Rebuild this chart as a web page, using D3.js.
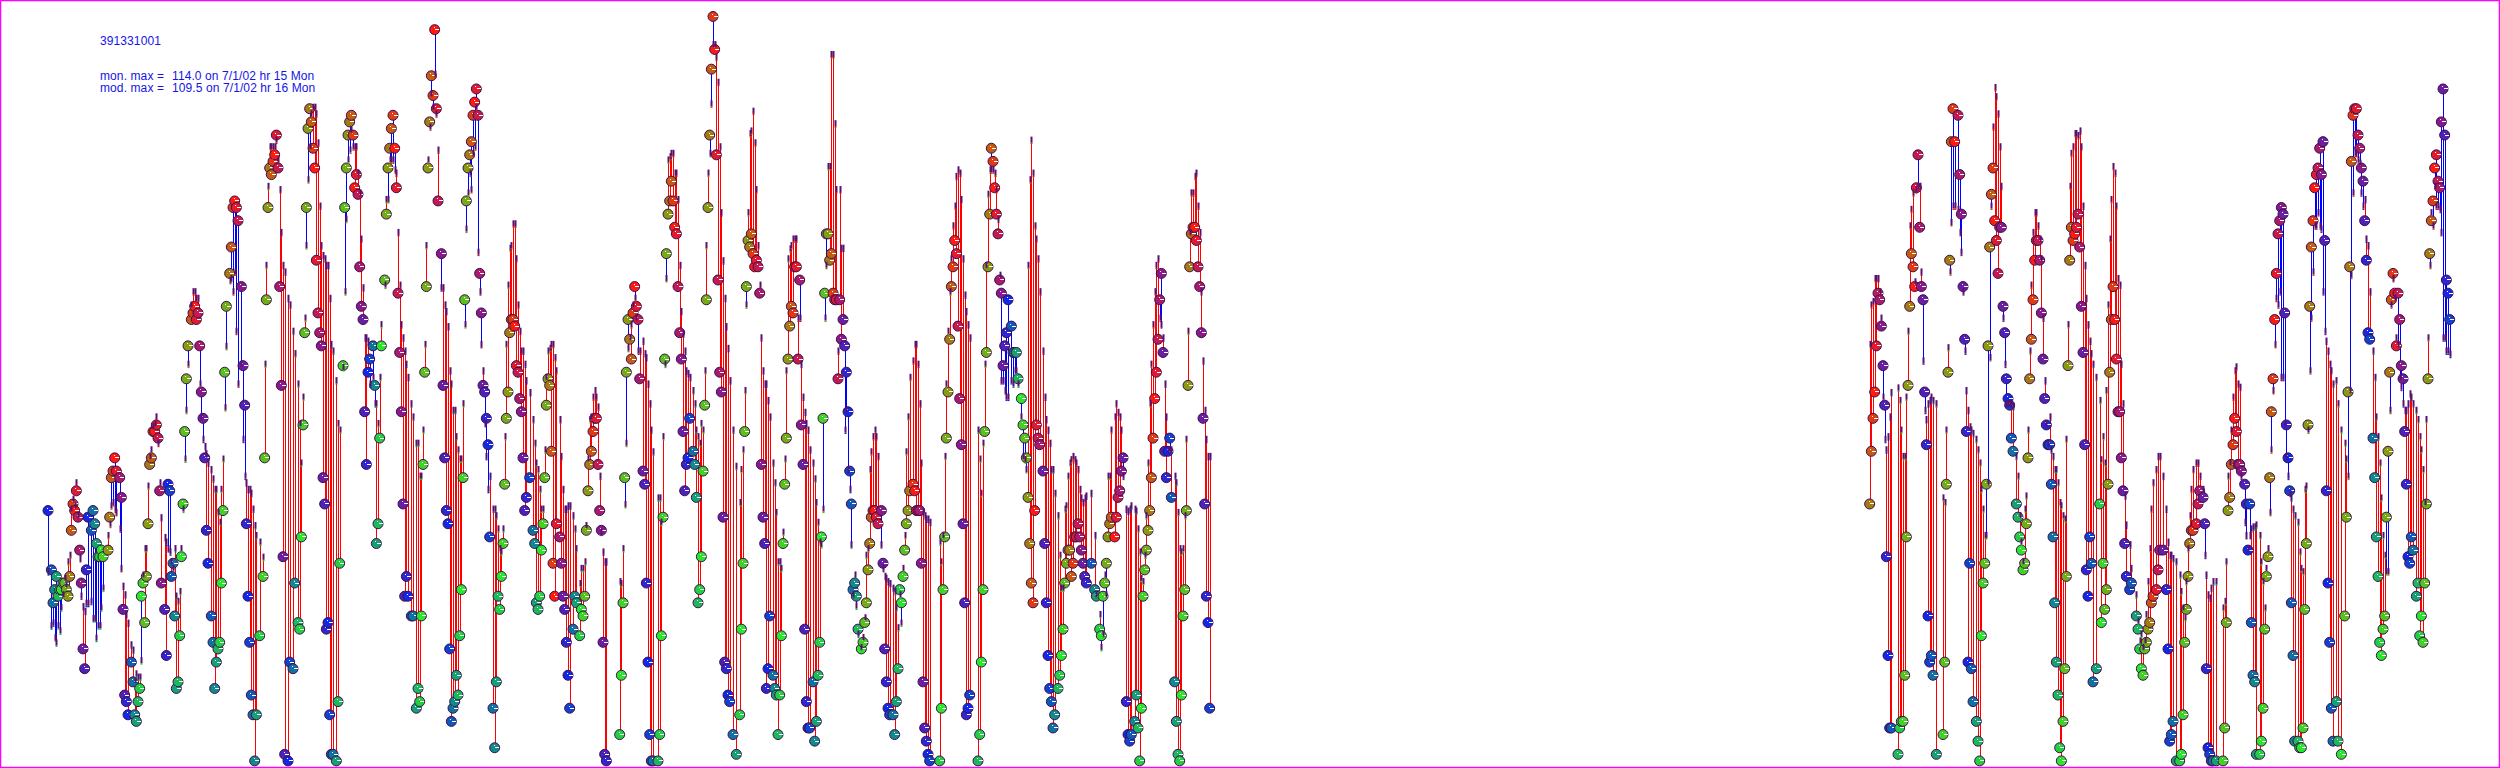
<!DOCTYPE html>
<html><head><meta charset="utf-8">
<script src="https://cdn.jsdelivr.net/npm/d3@7"></script>
<style>html,body{margin:0;padding:0;background:#fff;overflow:hidden}svg{display:block}</style>
</head><body><svg id="c" width="2500" height="768"></svg>
<script>
// rows: [hour since start, monitored ppb, modelled ppb]
const periodA=[[0,39,29.5],[2,30,21.3],[3,25,21.7],[4,27,19.5],[5,29,18.7],[6,26,21.3],[7,27,20.5],[8,27,24],[9,28,26],[10,28,28.5],[11,27,27.5],[12,26,31],[13,29,32],[14,36,39],[15,40,40.5],[16,39,39.5],[17,42,43],[18,38,38],[19,33,31.5],[20,28,25.8],[21,18,24.2],[22,15,23.5],[23,30,24.7],[24,38,24.7],[26,36,25],[27,39,22.4],[28,37,22.4],[29,34,19.4],[30,32,21.3],[31,32,21.3],[32,33,24],[33,32,27],[36,33,35],[37,38,36.7],[38,44,39.5],[39,45,40],[40,47,39],[41,45,38.5],[43,44,36],[44,41,30],[45,24,27.3],[46,11,26],[47,10,23],[48,8,21.7],[50,16,18.4],[51,13,17.6],[52,8,13],[53,7,14],[54,10,13.5],[55,12,13.5],[56,26,16],[57,28,29],[58,22,33],[59,29,33],[60,37,42.5],[61,46,47],[62,47,48],[63,51,51.5],[64,51,52],[65,52,53],[66,50,49],[67,42,43],[68,28,37.7],[70,24,34.7],[71,17,34],[72,43,33],[73,42,32.5],[74,29,31],[75,31,30],[76,23,33],[77,12,25.8],[78,13,25],[79,20,26.5],[80,32,33],[81,40,39],[82,51,46.6],[83,59,54],[84,64,61],[86,68,70],[87,69,72],[88,70,72],[89,68,71],[90,69,71],[91,64,58],[92,57,53],[93,53,49.6],[94,47,48.5],[95,36,47.4],[96,31,46],[98,23,45],[99,19,43.6],[100,12,42],[101,16,42],[102,18,38.5],[103,19,37],[104,28,42],[105,39,46.6],[106,60,54.4],[107,70,63.7],[109,75,73.7],[110,79,74],[111,85,72],[112,86,75],[113,85,66],[114,83,58]];
const periodB=[[116,73,61],[117,61,49.6],[118,55,44],[119,37,43],[120,26,42],[121,19,42],[122,11,41.4],[123,8,39],[124,1,36.5],[125,8,35],[127,20,34],[129,29,31.7],[130,47,61],[131,71,76],[132,85,88],[133,91,94],[134,90,94],[135,92,94],[136,93,94],[137,96,95],[138,91,92],[139,73,87.5],[140,58,81],[141,32,76],[142,2,75],[144,1,71],[145,16,70],[147,15,66],[148,28,62.6],[150,22,58],[151,21,52],[152,35,46],[153,52,56],[154,66,68],[155,85,79],[156,97,89],[157,100,94],[158,98,99],[159,94,100],[160,91,100],[161,77,99],[162,69,94.6],[163,66,85],[164,64,79],[165,44,77.5],[166,40,77],[167,21,76],[168,22,76],[169,8,71],[170,2,64],[171,2,63],[173,1,58.5],[174,10,52],[175,31,51],[177,61,60.5],[178,85,72],[179,91,83],[180,96,92],[181,98,93.5],[182,99,96.5],[183,96,94],[184,88,94],[185,90,94],[186,87,90],[187,76,87],[188,70,80],[189,68,72.6],[190,54,65],[191,46,65],[192,60,64.5],[193,62,58],[195,64,59],[196,58,55],[197,34,55],[198,37,52],[199,50,59],[200,64,67],[202,74,73],[203,84,86],[204,91,86],[205,94,92],[206,97,92],[207,99,92],[208,94,90.5],[209,88,90],[210,72,81],[211,63,73],[212,54,67],[213,40,65],[214,26,63],[215,29,61],[216,26,59],[218,23,55],[219,23,53],[221,9,49],[222,12,49],[223,10,44],[224,23,44],[225,46,51],[226,60,64],[227,73,79],[228,91,92],[229,98,97],[230,105,102],[231,102,100],[232,112,105],[233,100,99],[234,86,93.5]];
const periodC=[[236,78,72.6],[237,58,72.6],[238,47,70],[239,39,69],[240,37,66.7],[241,18,60],[242,7,58],[243,9,54],[244,10,54],[245,14,50],[246,11,48],[247,20,46.6],[248,27,46.6],[249,44,55],[250,71,67],[251,86,81.5],[252,91,87],[253,93,90],[254,95,87.5],[255,99,93],[256,101,94],[257,103,100],[258,99,78],[259,75,72],[260,69,64],[261,58,60],[262,57,52],[263,53,47],[264,49,42],[265,35,44],[267,9,39],[268,3,39],[269,13,38],[270,26,36],[271,24,33],[272,29,32.5],[273,34,36],[274,43,50],[275,53,64],[276,57,73],[277,66,78.6],[278,68,79],[279,68,82.3],[280,67,82.3],[281,61,77],[282,60,70],[283,56,66],[284,54,63],[285,47,63],[286,39,61],[287,41,58.5],[289,44,56.7],[291,36,52.6],[292,34,49],[293,25,46],[294,24,45],[295,26,42],[296,33,39],[297,37,39],[298,44,48],[299,55,59],[300,59,63],[301,58,63.4],[302,48,64],[303,31,64],[304,26,62],[305,37,60],[307,35,52.6],[308,31,47],[309,26,42],[310,24,39],[311,19,39],[312,14,39.5],[313,9,39.5],[315,21,38],[316,26,36],[317,25,33],[319,20,27.7],[320,24,30],[321,23,30],[322,26,31],[323,36,36.5],[324,42,46.6],[325,46,52.6],[326,48,53],[327,51,56],[328,53,57],[329,53,56],[330,46,54.5],[331,39,44],[332,36,35.5],[333,19,32.5],[334,2,31],[335,1,31],[343,5,28],[344,14,27.7],[345,25,33],[346,44,39.7],[347,60,49],[348,68,63.4],[349,65,65],[350,62,67],[351,69,70],[352,73,71],[353,70,68],[354,68,63],[355,59,63]];
const periodD=[[357,45,64.5],[358,43,62.6],[359,28,62],[360,16,58],[361,5,55],[362,1,51],[363,1,47.7],[366,1,40.7],[367,5,40.7],[368,20,37],[369,38,50],[370,62,61],[371,78,74],[372,84,92],[373,86,92.5],[374,89,93],[375,86,93],[376,82,90],[377,81,90],[378,73,86],[379,66,76],[380,62,69],[381,51,65.6],[382,42,63],[383,46,60],[384,47,59.6],[385,53,59],[387,48,57],[388,46,55],[389,41,51],[390,25,50],[391,27,49],[392,32,52],[393,45,51],[394,55,60],[395,71,79],[396,85,90],[397,96,93],[398,106,100.5],[399,114,109.5],[400,109,109.5],[401,93,107.6],[402,74,103.8],[403,60,94],[404,57,84],[405,38,76.7],[406,16,71],[407,15,66.7],[408,11,63.4],[409,10,58.5],[411,5,51],[413,2,45.5],[415,8,40],[416,21,45],[417,31,48],[418,51,57],[419,73,70],[420,80,84],[421,79,96],[422,81,96.4],[423,78,99.4],[424,76,94.6],[425,77,87.5],[426,76,79],[427,72,73],[428,46,65],[429,38,60],[430,34,58],[431,12,58],[432,15,55.5],[433,23,53],[435,14,46],[436,12,43],[437,11,38.5],[438,5,31],[439,11,31],[440,20,30],[441,34,35.5],[442,43,46.6],[443,50,60],[444,62,77],[445,67,78.5],[446,70,79],[447,69,80],[448,76,80],[449,76,80],[450,62,68],[451,74,68],[452,52,61],[453,46,56],[454,21,53.7],[455,10,52],[456,6,51],[457,6,48],[459,13,46],[460,4,43.6],[461,7,40],[462,14,37],[463,19,34],[464,35,33.6],[465,53,39],[466,72,68],[467,81,76],[468,81,91],[469,77,91],[470,78,108],[471,72,108],[472,71,97.5],[473,71,87.5]];
const periodE=[[474,59,63],[475,71,87.5],[476,65,78.6],[477,68,78.6],[478,64,51],[479,60,54],[480,54,45],[481,45,42],[482,40,33.6],[483,27,26],[484,28,29],[485,26,24.3],[486,21,20],[488,18,18],[489,19,19.5],[490,22,22.5],[491,25,32],[492,30,33],[493,34,45],[494,38,47.7],[495,39,50],[496,39,51],[497,38,50],[498,37,47],[500,39,33.6],[501,31,30],[502,18,28.8],[503,13,28.5],[504,9,28],[505,8,27.7],[507,8,27],[508,5,26.5],[509,10,24],[510,15,21],[511,27,26],[512,25,21.7],[513,29,30],[514,33,35],[515,37,47.7],[516,39,53],[517,42,59],[519,43,61.5],[520,42,64],[521,39,64],[522,39,61],[523,39,55],[524,31,46],[525,13,38.5],[526,6,38],[527,4,37.5],[528,2,37.5],[529,1,37],[535,1,34],[536,9,31],[537,27,35],[538,35,47],[539,50,58],[540,57,66],[541,65,72],[542,73,77],[543,76,82],[544,80,85],[545,78,89.5],[546,67,90.5],[547,56,90],[548,49,86],[549,37,77],[550,25,71.5],[551,8,69],[552,9,67],[553,11,65],[558,1,51],[559,5,46.6],[560,16,41.4],[561,27,49],[562,51,61],[563,63,76],[564,76,86.8],[565,84,90.5],[566,94,90.5],[567,92,90.5],[568,88,90],[569,84,87.5],[570,81,83],[571,74,74.5],[572,72,58.5],[573,61,58.5],[574,64,57],[575,66,56],[576,71,56],[578,67,58.5],[579,63,58],[580,63,60],[581,63,60],[582,59,58],[584,56,53],[585,52,47],[586,50,46.5],[587,47,45],[588,41,76],[589,34,89],[590,28,95],[591,25,90],[592,39,82],[593,52,80],[594,50,77]];
const periodF=[[595,49,72],[597,45,63],[598,34,56],[599,25,52.6],[600,17,51],[601,12,49],[602,10,45],[603,6,45],[604,8,41.4],[606,12,38],[607,14,32],[608,17,27],[609,21,27],[610,28,39],[611,31,39.5],[612,33,44],[613,33,46],[614,29,46.5],[615,31,47],[616,35,46.5],[617,35,46],[618,37,45],[619,35,42],[620,33,40.7],[621,31,40],[622,29,40.7],[623,28,41],[626,31,41.4],[628,27,35],[629,26,26],[631,21,23],[632,20,18],[633,26,20],[634,28,29],[635,31,26],[636,35,44],[637,37,44],[638,38,51],[640,35,53],[641,38,55],[642,41,53.7],[643,42,53],[644,45,51],[645,47,44],[647,10,39],[648,5,38.7],[649,4,39],[650,5,39.5],[652,7,39],[653,11,38.7],[654,6,36],[655,1,32.5],[656,9,28.5],[657,26,28],[658,30,32],[659,33,38],[660,36,46],[661,39,55],[662,44,61],[663,50,67],[664,56,72],[665,60,76],[666,65,77],[667,71,68],[668,75,67],[669,63,65],[670,48,58],[671,44,53],[672,48,48],[673,50,47.7],[674,41,48],[676,13,44],[677,7,43],[678,2,38.5],[679,1,33],[680,11,32.5],[681,23,33],[682,27,38],[683,39,49.6],[684,58,66],[685,76,81],[686,81,87],[687,82,87],[688,82,89.5],[689,80,90],[690,76,85],[691,73,81],[692,66,72],[693,53,61.5],[694,40,54],[695,26,49.6],[696,22,47],[697,9,47]];
const periodG=[[1093,40,64],[1094,48,70],[1095,53,70.5],[1096,57,74],[1097,64,74],[1098,72,74],[1099,71,72],[1100,67,68],[1101,61,56],[1102,55,49.6],[1103,32,48],[1104,17,50],[1105,6,53],[1106,6,56.7],[1110,2,57.4],[1111,6,55.5],[1112,7,51],[1113,7,47],[1114,14,47],[1115,35,56],[1116,58,66],[1117,70,82],[1118,78,84.5],[1119,76,87],[1120,73,73.5],[1121,88,87.5],[1122,93,88],[1123,82,88],[1124,73,75],[1125,71,61.5],[1126,57,54],[1127,49,52.6],[1128,23,55],[1129,16,55.5],[1130,17,56],[1131,14,55.5],[1133,2,55],[1137,5,40.7],[1138,16,40],[1139,43,51],[1140,60,63.5],[1141,77,75],[1142,95,82.5],[1143,100,85],[1144,95,85],[1146,99,84.5],[1147,90,81],[1148,84,78],[1149,73,72],[1150,65,63],[1151,51,57],[1152,16,54],[1153,31,51.5],[1154,15,51],[1155,10,50.5],[1157,7,49.6],[1158,4,48],[1159,1,46],[1160,20,42],[1161,28,39],[1162,31,35],[1163,43,35],[1164,64,43],[1165,79,62],[1166,87,85],[1167,91,97],[1168,83,103],[1169,80,101.6],[1170,75,99],[1171,82,94],[1172,82,88],[1173,70,68],[1174,66,61],[1175,59,55],[1176,56,55],[1177,55,55],[1178,50,54.6],[1179,48,54.6],[1181,40,47],[1182,38,44],[1183,35,38],[1184,33,34],[1185,30,31],[1186,31,39],[1187,37,41],[1188,47,51],[1189,59,63],[1190,65,73],[1191,71,81],[1192,77,84],[1193,80,84],[1194,80,82],[1195,77,80],[1196,69,77],[1197,62,68],[1198,56,58.5],[1199,52,52],[1200,49,49]];
const periodH=[[1201,49,53],[1202,43,48],[1203,35,47],[1204,25,45],[1205,16,45],[1206,11,43],[1207,3,40],[1208,1,39.5],[1209,7,38],[1210,15,37.5],[1211,29,49.6],[1212,61,67],[1213,77,88],[1214,82,93],[1215,80,94],[1216,81,96],[1217,82,96],[1218,84,95.7],[1219,79,96.4],[1220,70,94],[1221,63,85],[1222,49,76],[1223,30,71],[1224,26,67],[1225,35,64.5],[1226,31,62.6],[1227,13,61],[1229,15,59],[1231,40,55.5],[1232,22,46.5],[1233,31,50],[1234,24,46],[1235,27,57],[1236,43,70],[1237,60,80],[1238,68,86],[1239,73,91],[1240,68,90],[1241,62,85],[1242,54,74],[1243,54,73],[1244,47,61],[1245,42,55],[1246,34,41],[1247,29,36.6],[1249,27,33.6],[1250,28,30],[1253,23,26],[1254,21,22],[1255,18,19],[1256,15,20],[1257,14,18],[1258,18,19],[1259,19,23],[1260,21,28],[1261,22,33],[1262,25,39],[1263,26,43],[1265,27,45],[1266,30,47],[1267,33,47],[1269,33,44],[1271,27,39],[1272,18,34],[1273,4,32],[1274,5,32],[1275,7,31.5],[1277,1,31],[1279,1,29],[1280,2,26.5],[1281,8,24],[1282,19,22.5],[1283,24,28],[1284,29,33],[1285,34,38],[1286,36,42],[1287,36,45],[1289,37,46],[1290,40,46],[1291,42,44],[1293,41,42],[1294,37,32],[1295,15,29],[1296,3,26],[1297,2,25.5],[1298,1,27],[1299,1,28],[1301,1,28],[1305,1,24],[1306,6,25],[1307,22,31],[1308,39,44],[1309,41,46],[1310,46,51],[1311,49,56],[1312,53,60],[1313,51,60.6],[1314,46,58],[1315,46,57.5],[1316,45,44],[1318,43,37],[1319,40,35],[1320,33,33]];
const periodI=[[1321,40,35],[1322,22,36],[1323,14,36.3],[1324,13,36.3],[1325,2,36.6],[1327,2,35],[1328,4,31],[1329,9,28],[1330,21,24],[1331,29,30],[1332,32,33],[1333,44,38.5],[1334,54,48],[1335,59,57],[1336,68,64],[1337,75,71],[1338,81,70],[1339,83,72],[1340,85,59],[1341,84,59],[1342,69,52],[1343,52,47],[1344,47,44],[1345,42,41.4],[1346,25,40.7],[1347,17,39],[1348,4,38],[1350,4,37],[1351,3,32.5],[1352,3,30],[1353,6,29.5],[1354,24,42],[1355,34,42.5],[1356,52,51],[1357,70,60],[1358,79,68],[1359,83,75],[1360,88,82],[1361,90,82],[1362,91,84],[1363,94,82],[1364,90,81.5],[1365,95,72],[1366,80,66],[1367,42,64.5],[1368,28,63],[1369,19,61],[1370,9,60],[1371,4,58],[1373,10,58.5],[1374,4,55],[1376,2,51],[1378,23,49],[1379,38,46.6],[1380,57,44],[1381,76,57],[1382,92,74.5],[1383,99,87],[1384,100,93],[1385,100,93],[1386,96,92],[1387,94,91.5],[1388,91,87],[1389,89,85],[1390,83,86],[1391,77,80],[1392,66,79],[1393,65,72],[1395,50,63],[1396,44,59],[1397,35,53],[1398,29,50],[1399,19,46],[1400,17,40.7],[1401,21,35],[1402,23,32],[1403,38,29.5],[1404,48,29.5],[1405,60,54],[1406,71,70],[1407,75,74],[1408,72,71],[1409,64,65],[1410,72,64],[1411,68,59],[1412,61,57.5],[1413,59,55],[1414,51,54],[1415,43,54],[1416,32,55],[1417,31,56.5],[1418,35,56],[1419,33,55],[1421,26,54],[1422,28,52.6],[1423,20,50],[1424,23,48],[1425,19,45],[1426,28,40],[1427,40,52.6],[1428,59,65],[1429,78,76],[1430,83,84],[1431,86,82],[1432,91,88],[1433,93,85],[1434,89,85],[1435,88,84.5],[1436,98,81],[1437,103,65],[1438,96,65],[1439,74,63],[1440,72,63],[1441,68,62.5]];
const stationLabel="391331001";
const maxLabels=["mon. max =","mod. max ="];
const maxValues=["114.0 on 7/1/02 hr 15 Mon","109.5 on 7/1/02 hr 16 Mon"];

const W=2500,H=768;
const rows=[periodA,periodB,periodC,periodD,periodE,periodF,periodG,periodH,periodI].flat();
const x=d3.scaleLinear().domain([0,1500]).range([48,2548]);
const y=d3.scaleLinear().domain([0,116.5]).range([767.5,0]);
const hue=d3.scaleLinear().domain([0,4,8,12,16,20,24])
  .range(["#1228e6","#108a8a","#28e628","#8a9a10","#ff1a10","#8a1a8a","#1228e6"]).interpolate(d3.interpolateRgb);
const svg=d3.select("#c");
svg.append("rect").attr("x",0).attr("y",0).attr("width",W).attr("height",H).attr("fill","#fff");

svg.append("g").selectAll("rect").data(rows).join("rect")
  .attr("x",d=>Math.round(x(d[0]))).attr("width",1)
  .attr("y",d=>Math.min(y(d[1]),y(d[2]))).attr("height",d=>Math.abs(y(d[1])-y(d[2])))
  .attr("fill",d=>d[2]>=d[1]?"#ff0000":"#0000ff")
  .attr("shape-rendering","crispEdges");

const dots=svg.append("g").selectAll("g").data(rows).join("g")
  .attr("transform",d=>`translate(${x(d[0])},${y(d[1])})`);
dots.append("circle").attr("r",5).attr("fill",d=>hue(d[0]%24))
  .attr("stroke","#3a1050").attr("stroke-width",1);
dots.append("path").attr("d","M0.5,0H4.5M-1,-2h1").attr("stroke","#fff").attr("stroke-width",1)
  .attr("fill","none").attr("shape-rendering","crispEdges");

const ticks=svg.append("g").selectAll("g").data(rows).join("g")
  .attr("transform",d=>`translate(${Math.round(x(d[0]))},${y(d[2])})`);
ticks.append("rect").attr("x",-0.5).attr("y",-5).attr("width",2).attr("height",6).attr("fill","#5a1070");
ticks.append("rect").attr("x",-0.5).attr("y",1).attr("width",2).attr("height",1.5).attr("fill",d=>d3.color(hue(d[0]%24)).darker(0.4));

const font="'Liberation Sans',Arial,sans-serif";
const text=(s,tx,ty)=>svg.append("text").attr("x",tx).attr("y",ty).attr("fill","#1414e6")
  .attr("font-family",font).attr("font-size",12).attr("letter-spacing",0.1).text(s);
text(stationLabel,100,45);
maxLabels.forEach((s,i)=>{text(s,100,80+12*i);text(maxValues[i],172,80+12*i);});

svg.append("rect").attr("x",0.5).attr("y",0.5).attr("width",W-1).attr("height",H-1)
  .attr("fill","none").attr("stroke","#ff00ff").attr("stroke-width",1.5);
</script></body></html>
